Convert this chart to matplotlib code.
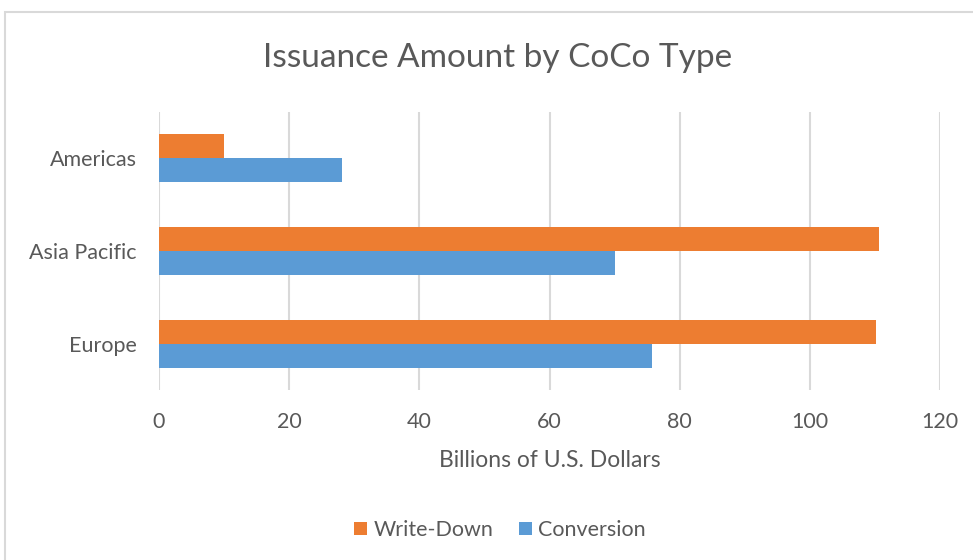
import numpy as np
import matplotlib
matplotlib.use("Agg")
import matplotlib.pyplot as plt
from matplotlib.patches import Rectangle

regions = ["Americas", "Asia Pacific", "Europe"]
write_down = [10.0, 110.7, 110.1]
conversion = [28.1, 70.1, 75.8]
x_ticks = [0, 20, 40, 60, 80, 100, 120]

orange = "#ED7D31"
blue = "#5B9BD5"
text_col = "#595959"
grid_col = "#d9d9d9"

plt.rcParams['font.family'] = ['Lato', 'DejaVu Sans']

fig = plt.figure(figsize=(9.73, 5.60), dpi=100)
# chart border (Excel style)
fig.patches.append(Rectangle((5 / 973, -0.1), 1.2, 1 - 12 / 560 + 0.1,
                             transform=fig.transFigure, fill=False,
                             edgecolor=grid_col, linewidth=1.5))

ax = fig.add_axes([159 / 973, 1 - 390 / 560, (940 - 159) / 973, (390 - 112) / 560])

y = np.arange(len(regions))
h = 0.26
ax.barh(y - h / 2, write_down, height=h, color=orange, label="Write-Down", zorder=3)
ax.barh(y + h / 2, conversion, height=h, color=blue, label="Conversion", zorder=3)

ax.set_ylim(2.5, -0.5)
ax.set_xlim(0, 120)
ax.set_xticks(x_ticks)
ax.set_yticks(y)
ax.set_yticklabels(regions)
ax.grid(axis='x', color=grid_col, linewidth=1.5, zorder=0)
ax.set_axisbelow(True)
for s in ax.spines.values():
    s.set_visible(False)
ax.tick_params(axis='both', length=0, labelsize=15.5, colors=text_col)
ax.tick_params(axis='x', pad=16)
ax.tick_params(axis='y', pad=16)

ax.set_xlabel("Billions of U.S. Dollars", fontsize=16.5, color=text_col, labelpad=13)
fig.text(498 / 973, 1 - 58 / 560, "Issuance Amount by CoCo Type", ha='center', va='center',
         fontsize=24, color=text_col)

ax.legend(loc='center', bbox_to_anchor=(500 / 973, 1 - 530 / 560),
          bbox_transform=fig.transFigure, ncol=2, frameon=False, fontsize=15.5,
          handlelength=0.6, handleheight=0.6, handletextpad=0.3, columnspacing=1.2,
          labelcolor=text_col)

fig.savefig("out.png", dpi=100)
